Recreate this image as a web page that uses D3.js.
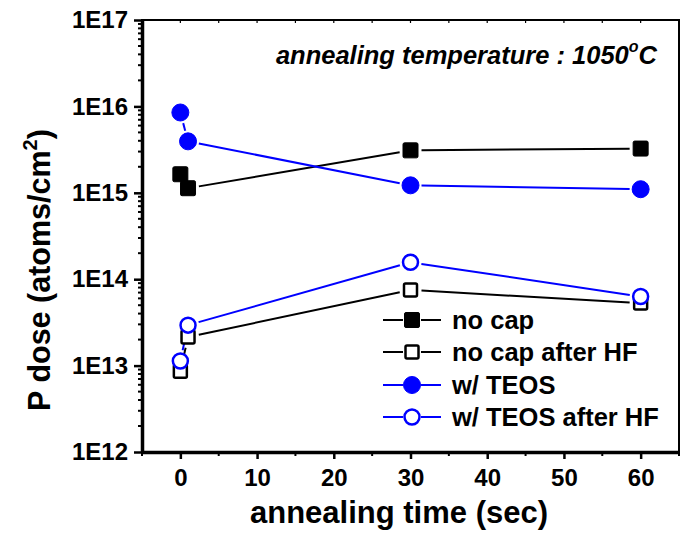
<!DOCTYPE html>
<html>
<head>
<meta charset="utf-8">
<script src="https://cdn.jsdelivr.net/npm/d3@7"></script>
<style>
  body { margin: 0; background: #fff; }
  svg text { font-family: Arial, "Liberation Sans", sans-serif; font-weight: bold; }
</style>
</head>
<body>
<svg id="chart" width="690" height="534"></svg>
<script>
// annealing time (sec)
var times = [0, 1, 30, 60];
// P dose (atoms/cm2)
var noCap = [1.64e15, 1.13e15, 3.1e15, 3.25e15];
var noCapHF = [8.6e12, 2.14e13, 7.5e13, 5.3e13];
var teos = [8.5e15, 3.94e15, 1.22e15, 1.1e15];
var teosHF = [1.13e13, 2.94e13, 1.57e14, 6.3e13];
var xTicks = [0, 10, 20, 30, 40, 50, 60];
var yTicks = [1e12, 1e13, 1e14, 1e15, 1e16, 1e17];
var yTickLabels = ["1E12", "1E13", "1E14", "1E15", "1E16", "1E17"];

var series = [
  { name: "no cap", values: noCap, color: "#000", shape: "square", filled: true },
  { name: "no cap after HF", values: noCapHF, color: "#000", shape: "square", filled: false },
  { name: "w/ TEOS", values: teos, color: "#0000ff", shape: "circle", filled: true },
  { name: "w/ TEOS after HF", values: teosHF, color: "#0000ff", shape: "circle", filled: false }
];

var pLeft = 142, pRight = 679, pTop = 20, pBottom = 452;
var svg = d3.select("#chart");

var x = d3.scaleLinear().domain([-5, 65]).range([pLeft, pRight]);
var y = d3.scaleLog().domain([1e12, 1e17]).range([pBottom, pTop]);

// frame
svg.append("rect").attr("x", pLeft).attr("y", pTop)
  .attr("width", pRight - pLeft).attr("height", pBottom - pTop)
  .attr("fill", "none").attr("stroke", "#000").attr("stroke-width", 2);

// minor ticks
var xMinor = d3.range(-5, 66, 5).filter(function (d) { return d % 10 !== 0; });
var yMinor = [];
for (var e = 12; e < 17; e++) {
  for (var m = 2; m < 10; m++) yMinor.push(m * Math.pow(10, e));
}

// bottom axis
var xAxis = svg.append("g").attr("transform", "translate(0," + pBottom + ")");
xAxis.selectAll(".minor").data(xMinor).enter().append("line")
  .attr("x1", x).attr("x2", x).attr("y1", 0).attr("y2", 4)
  .attr("stroke", "#000").attr("stroke-width", 2);
xAxis.call(d3.axisBottom(x).tickValues(xTicks).tickSize(7).tickPadding(10).tickSizeOuter(0))
  .call(function (g) {
    g.select(".domain").attr("stroke-width", 3.5);
    g.selectAll(".tick line").attr("stroke-width", 2.5);
    g.selectAll(".tick text").style("font-size", "24px");
  });

// top ticks (inward)
svg.append("g").selectAll("line").data(xTicks.concat(xMinor)).enter().append("line")
  .attr("x1", x).attr("x2", x).attr("y1", pTop).attr("y2", pTop + 3)
  .attr("stroke", "#000").attr("stroke-width", 1.2);

// left axis
var yAxis = svg.append("g").attr("transform", "translate(" + pLeft + ",0)");
yAxis.selectAll(".minor").data(yMinor).enter().append("line")
  .attr("x1", 0).attr("x2", -4).attr("y1", y).attr("y2", y)
  .attr("stroke", "#000").attr("stroke-width", 2);
yAxis.call(d3.axisLeft(y).tickValues(yTicks).tickSize(8).tickPadding(6).tickSizeOuter(0)
    .tickFormat(function (d, i) { return yTickLabels[i]; }))
  .call(function (g) {
    g.select(".domain").attr("stroke-width", 3.5);
    g.selectAll(".tick line").attr("stroke-width", 2.5);
    g.selectAll(".tick text").style("font-size", "24px");
  });

// lines with gaps around markers
function gapSegments(vals, gap) {
  var segs = [];
  for (var i = 0; i < vals.length - 1; i++) {
    var x1 = x(times[i]), y1 = y(vals[i]), x2 = x(times[i + 1]), y2 = y(vals[i + 1]);
    var dx = x2 - x1, dy = y2 - y1, len = Math.sqrt(dx * dx + dy * dy);
    if (len <= 2 * gap) continue;
    var ux = dx / len, uy = dy / len;
    segs.push([x1 + ux * gap, y1 + uy * gap, x2 - ux * gap, y2 - uy * gap]);
  }
  return segs;
}

function drawMarker(g, s, cx, cy) {
  if (s.shape === "square") {
    var sz = s.filled ? 15 : 13;
    g.append("rect").attr("x", cx - sz / 2).attr("y", cy - sz / 2)
      .attr("width", sz).attr("height", sz).attr("rx", 1.5)
      .attr("fill", s.filled ? s.color : "#fff")
      .attr("stroke", s.color).attr("stroke-width", s.filled ? 1 : 2.5);
  } else {
    var r = s.filled ? 8.5 : 7.5;
    g.append("circle").attr("cx", cx).attr("cy", cy).attr("r", r)
      .attr("fill", s.filled ? s.color : "#fff")
      .attr("stroke", s.color).attr("stroke-width", s.filled ? 1 : 2.5);
  }
}

var plot = svg.append("g");
series.forEach(function (s) {
  plot.append("g").selectAll("line").data(gapSegments(s.values, 11)).enter().append("line")
    .attr("x1", function (d) { return d[0]; }).attr("y1", function (d) { return d[1]; })
    .attr("x2", function (d) { return d[2]; }).attr("y2", function (d) { return d[3]; })
    .attr("stroke", s.color).attr("stroke-width", 2);
});
series.forEach(function (s) {
  var g = plot.append("g");
  s.values.forEach(function (v, i) { drawMarker(g, s, x(times[i]), y(v)); });
});

// legend
var legend = svg.append("g");
var legY = [320, 352, 385, 417];
series.forEach(function (s, i) {
  var ly = legY[i];
  legend.append("line").attr("x1", 383).attr("x2", 403).attr("y1", ly).attr("y2", ly)
    .attr("stroke", s.color).attr("stroke-width", 2);
  legend.append("line").attr("x1", 421).attr("x2", 441).attr("y1", ly).attr("y2", ly)
    .attr("stroke", s.color).attr("stroke-width", 2);
  drawMarker(legend, s, 412, ly);
  legend.append("text").attr("x", 452).attr("y", ly + 9)
    .style("font-size", "25.5px").text(s.name);
});

// annotation
var ann = svg.append("text").attr("x", 657).attr("y", 64).attr("text-anchor", "end")
  .style("font-size", "25.5px").attr("font-style", "italic");
ann.append("tspan").text("annealing temperature : 1050");
ann.append("tspan").style("font-size", "16px").attr("dy", -12).text("o");
ann.append("tspan").attr("dy", 12).text("C");

// axis titles
svg.append("text").attr("x", 399).attr("y", 523).attr("text-anchor", "middle")
  .style("font-size", "31px").text("annealing time (sec)");
var yt = svg.append("text").attr("transform", "translate(50,270) rotate(-90)")
  .attr("text-anchor", "middle").style("font-size", "30.5px");
yt.append("tspan").text("P dose (atoms/cm");
yt.append("tspan").style("font-size", "20px").attr("dy", -13).text("2");
yt.append("tspan").attr("dy", 13).text(")");
</script>
</body>
</html>
